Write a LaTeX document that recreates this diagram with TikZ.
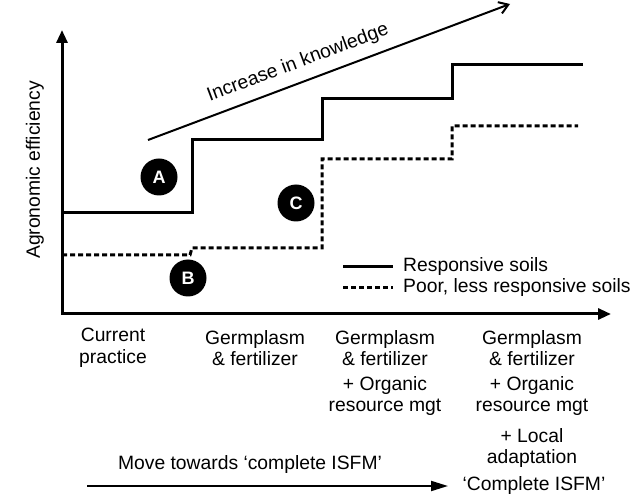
\documentclass[tikz,border=0pt]{standalone}
\usepackage{fontspec}
\setmainfont{Liberation Sans}
\usetikzlibrary{arrows.meta,positioning}

\begin{document}
\begin{tikzpicture}[
        x=1pt, y=-1pt,
        every node/.style={font=\fontsize{19.3}{21.5}\selectfont, align=center, inner sep=0pt},
        axis/.style={line width=3pt, {Triangle[length=13pt,width=11pt]}-{Triangle[length=13pt,width=11pt]}},
        responsive/.style={line width=3pt},
        poorsoil/.style={line width=3pt, dash pattern=on 5pt off 3pt},
        marker/.style={circle, fill=black, minimum size=37pt, text=white, font=\fontsize{18}{18}\selectfont\bfseries}
      ]
        \useasboundingbox (0,0) rectangle (642,502);
        % axes
        \coordinate (ytop) at (62,30);
        \coordinate (origin) at (62,314);
        \coordinate (xend) at (611,314);
        \draw[axis] (ytop) -- (origin) -- (xend);
        \node[rotate=90] (ylabel) at (35,170) {Agronomic efficiency};
        % steps
        \draw[responsive] (62,213) -| (192,140) -| (322,99) -| (452,65) -- (583,65);
        \draw[poorsoil] (62,255) -- (190,255) -- (192,248) -| (322,159) -| (452,126) -- (578,126);
        % knowledge
        \coordinate (know0) at (148,140);
        \coordinate (know1) at (510,4);
        \draw[line width=2pt, -{Straight Barb[length=9pt,width=12pt,line width=2pt]}] (know0) -- (know1);
        \node[rotate=20.6] (knowledge) at (298,63) {Increase in knowledge};
        % markers
        \node[marker] (A) at (159,177) {A};
        \node[marker] (B) at (188,278) {B};
        \node[marker] (C) at (296,203) {C};
        % legend
        \coordinate (leg1a) at (343,267);
        \coordinate (leg1b) at (393,267);
        \coordinate (leg2a) at (343,288);
        \coordinate (leg2b) at (393,288);
        \draw[responsive] (leg1a) -- (leg1b);
        \draw[poorsoil] (leg2a) -- (leg2b);
        \node[anchor=west, right=10pt of leg1b] (leg1) {Responsive soils};
        \node[anchor=west, right=10pt of leg2b] (leg2) {Poor, less responsive soils};
        % stages
        \node (cur) at (113,348) {Current\\practice};
        \node (gf2) at (255,348) {Germplasm\\\& fertilizer};
        \node (gf3) at (385,348) {Germplasm\\\& fertilizer};
        \node (or3) at (385,396) {+ Organic\\resource mgt};
        \node (gf4) at (532,348) {Germplasm\\\& fertilizer};
        \node (or4) at (532,396) {+ Organic\\resource mgt};
        \node (loc4) at (532,448) {+ Local\\adaptation};
        \node (full) at (534,486) {‘Complete ISFM’};
        % move towards
        \node (move) at (250,465) {Move towards ‘complete ISFM’};
        \coordinate (move0) at (87,486);
        \draw[line width=2pt, -{Triangle[length=17pt,width=10pt]}] (move0) -- (full.west -| 448,0);
      \end{tikzpicture}
\end{document}
